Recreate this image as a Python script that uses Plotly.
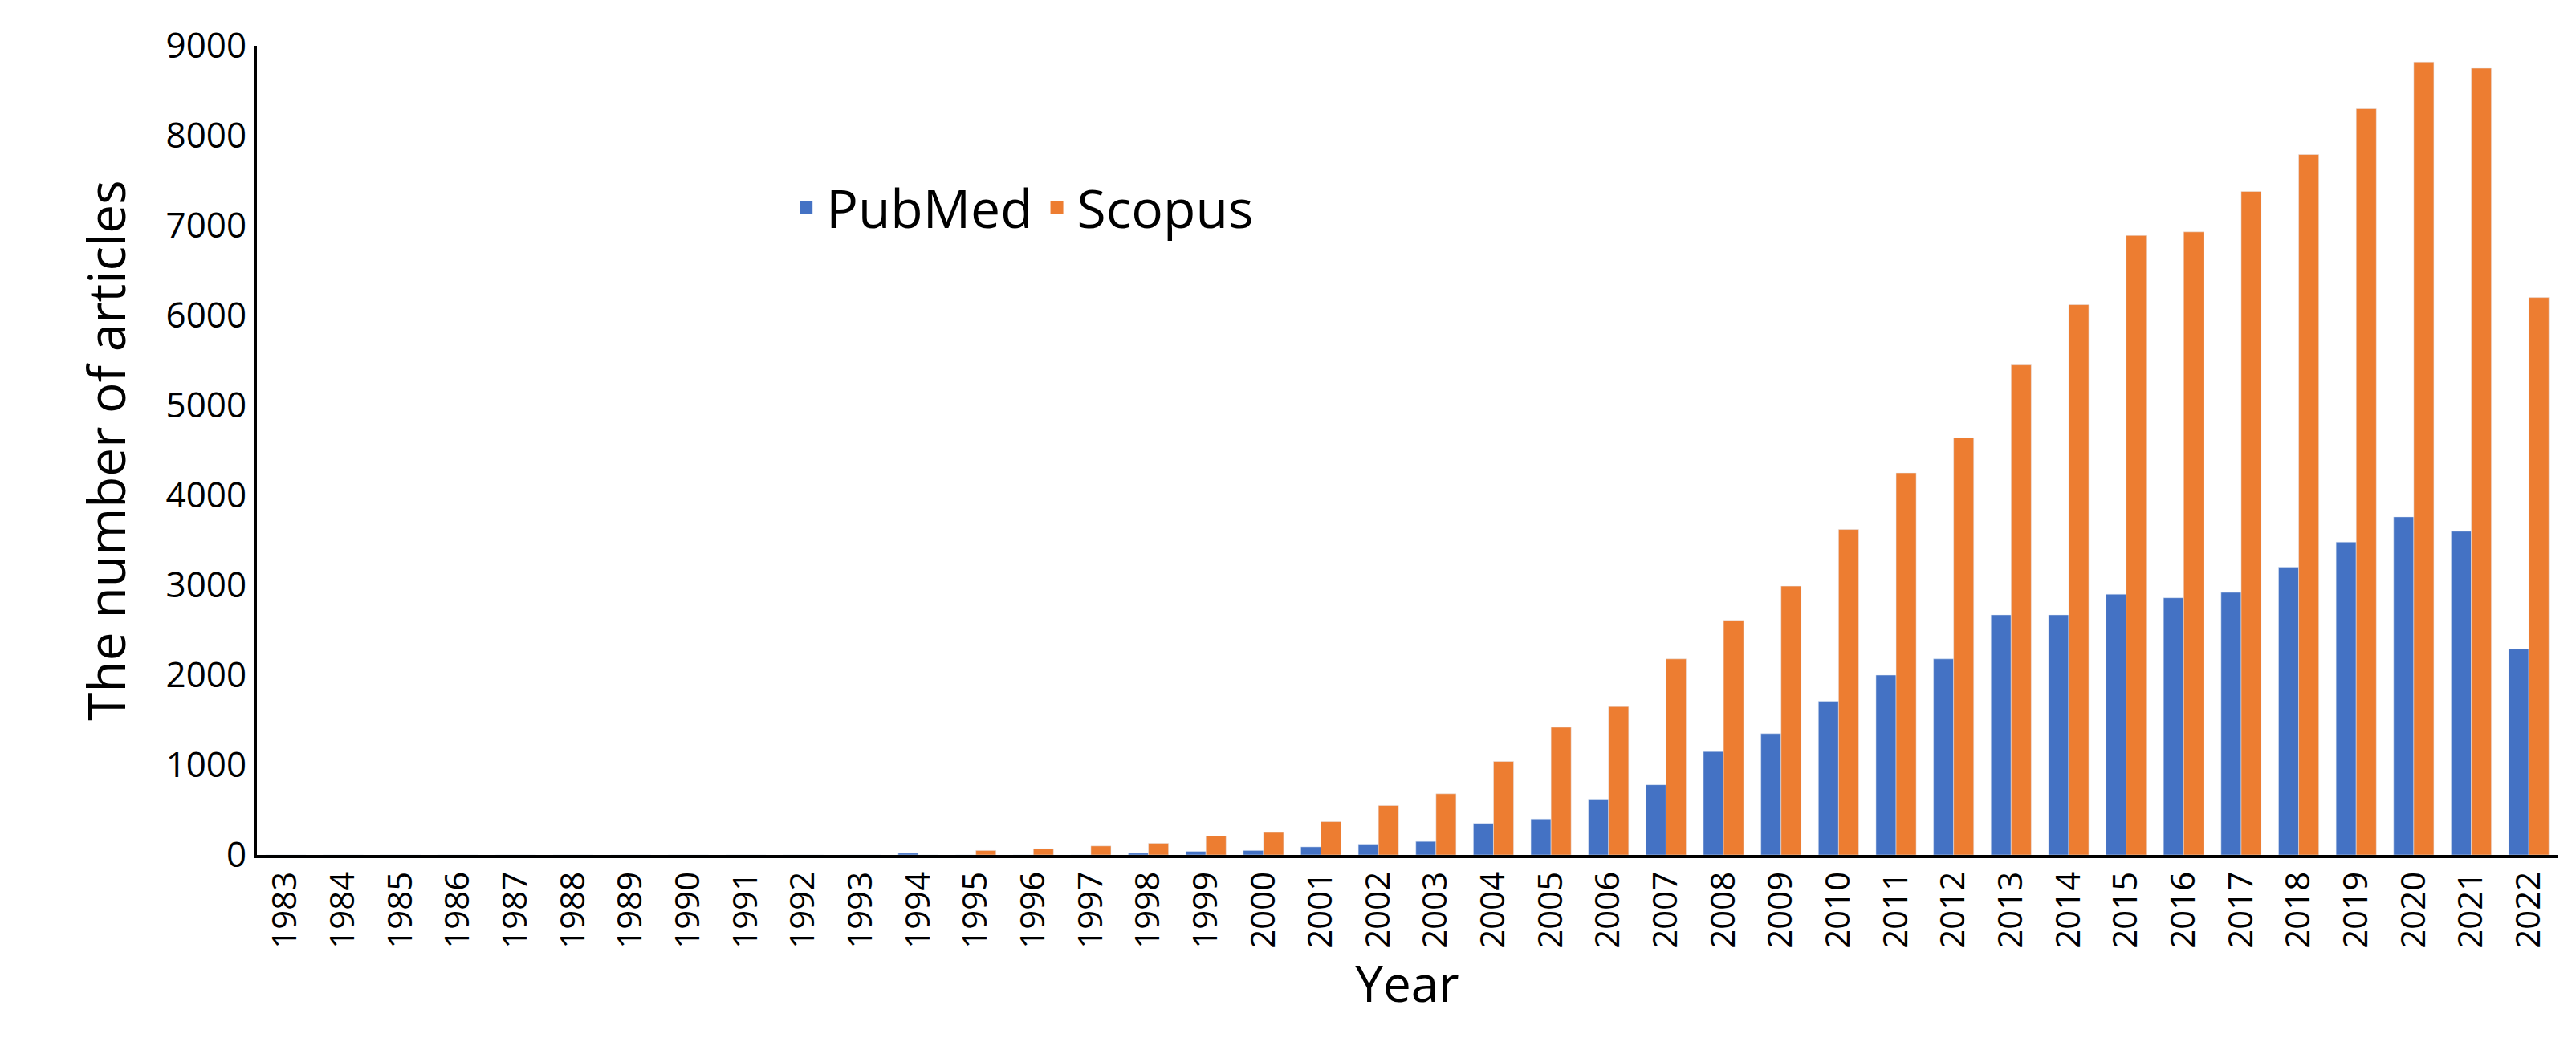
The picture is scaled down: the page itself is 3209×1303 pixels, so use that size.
import plotly.graph_objects as go

years = [str(y) for y in range(1983, 2023)]
pubmed = [0,0,0,0,0,0,0,0,0,0,0,20,0,0,0,20,40,50,90,120,150,350,400,620,780,1150,1350,1710,2000,2180,2670,2670,2900,2860,2920,3200,3480,3760,3600,2290]
scopus = [0,0,0,0,0,0,0,0,0,0,0,0,50,70,100,130,210,250,370,550,680,1040,1420,1650,2180,2610,2990,3620,4250,4640,5450,6120,6890,6930,7380,7790,8300,8820,8750,6200]
yticks = [0,1000,2000,3000,4000,5000,6000,7000,8000,9000]
names = ["PubMed", "Scopus"]
colors = ["#4472C4", "#ED7D31"]

fig = go.Figure()
for nm, vals, c in zip(names, [pubmed, scopus], colors):
    fig.add_bar(x=years, y=vals, name=nm, marker_color=c, showlegend=False)
for nm, c in zip(names, colors):
    fig.add_scatter(x=[None], y=[None], mode="markers", name=nm,
                    marker=dict(symbol="square", size=40, color=c))
font = "Open Sans, Noto Sans, sans-serif"
fig.update_layout(
    width=3209, height=1303, paper_bgcolor="white", plot_bgcolor="white",
    margin=dict(l=312, r=31, t=49, b=246),
    barmode="group", bargap=0.3, bargroupgap=0,
    font=dict(family=font, color="black"),
    legend=dict(orientation="h", x=0.23, y=0.80, xanchor="left", yanchor="middle",
                font=dict(size=66), bgcolor="rgba(0,0,0,0)", itemwidth=40, traceorder="normal"),
    xaxis=dict(title=dict(text="Year", font=dict(size=62), standoff=25), tickangle=-90,
               tickfont=dict(size=42), showline=True, linecolor="black", linewidth=4,
               showgrid=False, ticks=""),
    yaxis=dict(title=dict(text="The number of articles", font=dict(size=64), standoff=30),
               range=[0, 9000], tickvals=yticks, tickfont=dict(size=44),
               showline=True, linecolor="black", linewidth=4, showgrid=False,
               zeroline=False, ticks=""),
)
fig.write_html("out.html")
